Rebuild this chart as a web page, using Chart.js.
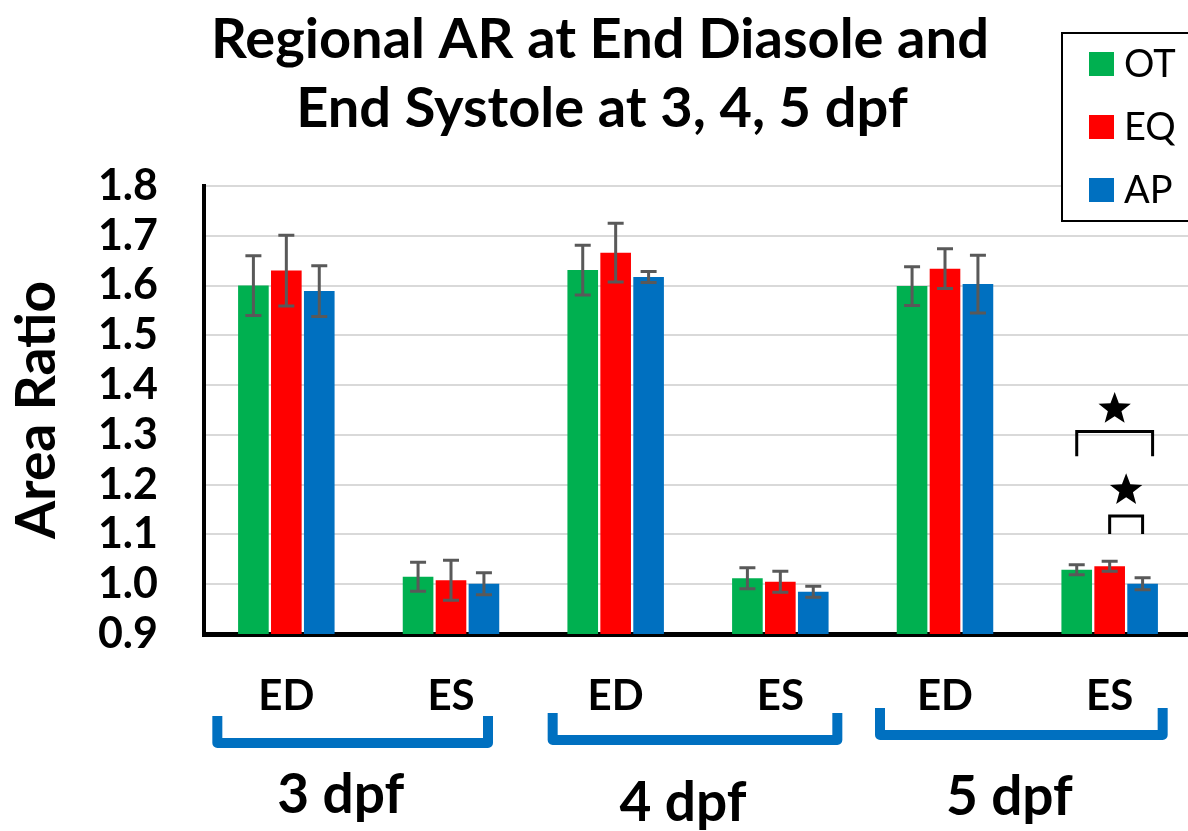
<!DOCTYPE html>
<html>
<head>
<meta charset="utf-8">
<script src="https://cdn.jsdelivr.net/npm/chart.js@4.4.1/dist/chart.umd.min.js"></script>
<style>
  html, body { margin: 0; padding: 0; background: #fff; overflow: hidden; }
  #wrap { width: 1192px; height: 831px; }
</style>
</head>
<body>
<div id="wrap"><canvas id="arChart" width="1192" height="831"></canvas></div>
<script>
// categories and group labels
const phases = ['ED', 'ES', 'ED', 'ES', 'ED', 'ES'];
const stages = ['3 dpf', '4 dpf', '5 dpf'];
const titleLines = ['Regional AR at End Diasole and', 'End Systole at 3, 4, 5 dpf'];

// series values (mean area ratio) and error bar half-widths
const otValues = [1.600, 1.015, 1.631, 1.012, 1.599, 1.029];
const eqValues = [1.630, 1.008, 1.666, 1.005, 1.634, 1.036];
const apValues = [1.589, 1.001, 1.617, 0.985, 1.603, 1.001];
const otErrors = [0.060, 0.029, 0.050, 0.021, 0.039, 0.010];
const eqErrors = [0.071, 0.040, 0.059, 0.021, 0.040, 0.010];
const apErrors = [0.051, 0.022, 0.011, 0.011, 0.058, 0.012];

// y axis ticks
const yTicks = [0.9, 1.0, 1.1, 1.2, 1.3, 1.4, 1.5, 1.6, 1.7, 1.8];

// significance marks at 5 dpf ES: [fromSeries, toSeries, bracket level, leg end, star level]
const sigCategory = 5;
const sigMarks = [
    { from: 0, to: 2, level: 1.307, leg: 1.257, star: 1.352 },
    { from: 1, to: 2, level: 1.137, leg: 1.101, star: 1.189 }
];

const BOLD = 'Lato, "Open Sans", sans-serif';

// error bars drawn over the bars
const errorBarPlugin = {
    id: 'errorBars',
    afterDatasetsDraw(chart) {
        const ctx = chart.ctx;
        const y = chart.scales.y;
        ctx.save();
        ctx.strokeStyle = '#595959';
        ctx.lineWidth = 3;
        chart.data.datasets.forEach((ds, i) => {
            const meta = chart.getDatasetMeta(i);
            meta.data.forEach((bar, j) => {
                const v = ds.data[j];
                const e = ds.errors[j];
                const top = y.getPixelForValue(v + e);
                const bot = y.getPixelForValue(v - e);
                ctx.beginPath();
                ctx.moveTo(bar.x, top);
                ctx.lineTo(bar.x, bot);
                ctx.moveTo(bar.x - 8, top);
                ctx.lineTo(bar.x + 8, top);
                ctx.moveTo(bar.x - 8, bot);
                ctx.lineTo(bar.x + 8, bot);
                ctx.stroke();
            });
        });
        ctx.restore();
    }
};

function drawStar(ctx, cx, cy, r) {
    ctx.beginPath();
    for (let k = 0; k < 10; k++) {
        const rad = k % 2 === 0 ? r : r * 0.42;
        const a = -Math.PI / 2 + k * Math.PI / 5;
        const px = cx + rad * Math.cos(a);
        const py = cy + rad * Math.sin(a);
        if (k === 0) ctx.moveTo(px, py); else ctx.lineTo(px, py);
    }
    ctx.closePath();
    ctx.fill();
}

// title, legend, significance brackets and the stage brackets under the x axis
const decorPlugin = {
    id: 'decor',
    afterDraw(chart) {
        const ctx = chart.ctx;
        const x = chart.scales.x;
        const y = chart.scales.y;
        ctx.save();

        // title
        ctx.fillStyle = '#000';
        ctx.textAlign = 'center';
        ctx.textBaseline = 'middle';
        ctx.font = 'bold 56px ' + BOLD;
        ctx.fillText(titleLines[0], 600, 40);
        ctx.fillText(titleLines[1], 602, 109);

        // significance brackets
        ctx.strokeStyle = '#000';
        ctx.lineWidth = 3;
        sigMarks.forEach((m, n) => {
            const x1 = chart.getDatasetMeta(m.from).data[sigCategory].x;
            let x2 = chart.getDatasetMeta(m.to).data[sigCategory].x;
            if (n === 0) x2 += 10;
            const yl = y.getPixelForValue(m.level);
            const yb = y.getPixelForValue(m.leg);
            ctx.beginPath();
            ctx.moveTo(x1, yb);
            ctx.lineTo(x1, yl);
            ctx.lineTo(x2, yl);
            ctx.lineTo(x2, yb);
            ctx.stroke();
            ctx.fillStyle = '#000';
            drawStar(ctx, (x1 + x2) / 2, y.getPixelForValue(m.star), 17);
        });

        // stage brackets and labels
        const bracketTops = [716, 713, 708];
        const leftPad = [69, 63, 65];
        const rightPad = [37, 57, 53];
        const labelY = [795, 803, 797];
        ctx.strokeStyle = '#0070C0';
        ctx.lineWidth = 10;
        ctx.lineJoin = 'round';
        ctx.lineCap = 'butt';
        stages.forEach((s, g) => {
            const xl = x.getPixelForValue(g * 2) - leftPad[g];
            const xr = x.getPixelForValue(g * 2 + 1) + rightPad[g];
            const t = bracketTops[g];
            const b = t + 27;
            ctx.beginPath();
            ctx.moveTo(xl, t);
            ctx.lineTo(xl, b);
            ctx.lineTo(xr, b);
            ctx.lineTo(xr, t);
            ctx.stroke();
            ctx.fillStyle = '#000';
            ctx.font = 'bold 55px ' + BOLD;
            ctx.textAlign = 'center';
            ctx.fillText(s, (xl + xr) / 2 - 12, labelY[g]);
        });

        // legend box
        const lx = 1062, ly = 33;
        ctx.fillStyle = '#fff';
        ctx.fillRect(lx, ly, 140, 188);
        ctx.strokeStyle = '#000';
        ctx.lineWidth = 2;
        ctx.lineJoin = 'miter';
        ctx.strokeRect(lx, ly, 140, 188);
        ctx.font = '38px ' + BOLD;
        ctx.textAlign = 'left';
        chart.data.datasets.forEach((ds, i) => {
            const cy = 64 + i * 63;
            ctx.fillStyle = ds.backgroundColor;
            ctx.fillRect(1089, cy - 12, 25, 24);
            ctx.fillStyle = '#000';
            ctx.fillText(ds.label, 1124, cy + 1);
        });
        ctx.restore();
    }
};

new Chart(document.getElementById('arChart'), {
    type: 'bar',
    data: {
        labels: phases,
        datasets: [
            { label: 'OT', data: otValues, errors: otErrors, backgroundColor: '#00B050' },
            { label: 'EQ', data: eqValues, errors: eqErrors, backgroundColor: '#FF0000' },
            { label: 'AP', data: apValues, errors: apErrors, backgroundColor: '#0070C0' }
        ]
    },
    options: {
        responsive: false,
        animation: false,
        layout: { padding: { top: 186, left: 0, right: 0, bottom: 0 } },
        datasets: {
            bar: { categoryPercentage: 0.6, barPercentage: 0.93 }
        },
        plugins: {
            legend: { display: false },
            title: { display: false },
            tooltip: { enabled: false }
        },
        scales: {
            x: {
                grid: { display: false, drawTicks: false },
                border: { color: '#000', width: 5 },
                ticks: {
                    color: '#000',
                    padding: 37,
                    font: { family: BOLD, size: 42, weight: 'bold' }
                },
                afterFit: function (scale) { scale.height = 197; }
            },
            y: {
                min: 0.9,
                max: 1.8,
                afterBuildTicks: function (scale) {
                    scale.ticks = yTicks.map(v => ({ value: v }));
                },
                grid: { color: '#D9D9D9', lineWidth: 2, drawTicks: false },
                border: { color: '#000', width: 4 },
                ticks: {
                    color: '#000',
                    padding: 46,
                    autoSkip: false,
                    font: { family: BOLD, size: 43, weight: 'bold', lineHeight: 1 },
                    callback: function (value) { return value.toFixed(1); }
                },
                title: {
                    display: true,
                    text: 'Area Ratio',
                    color: '#000',
                    padding: { top: 4 },
                    font: { family: BOLD, size: 55, weight: 'bold' }
                },
                afterFit: function (scale) { scale.width = 204; }
            }
        }
    },
    plugins: [errorBarPlugin, decorPlugin]
});
</script>
</body>
</html>
